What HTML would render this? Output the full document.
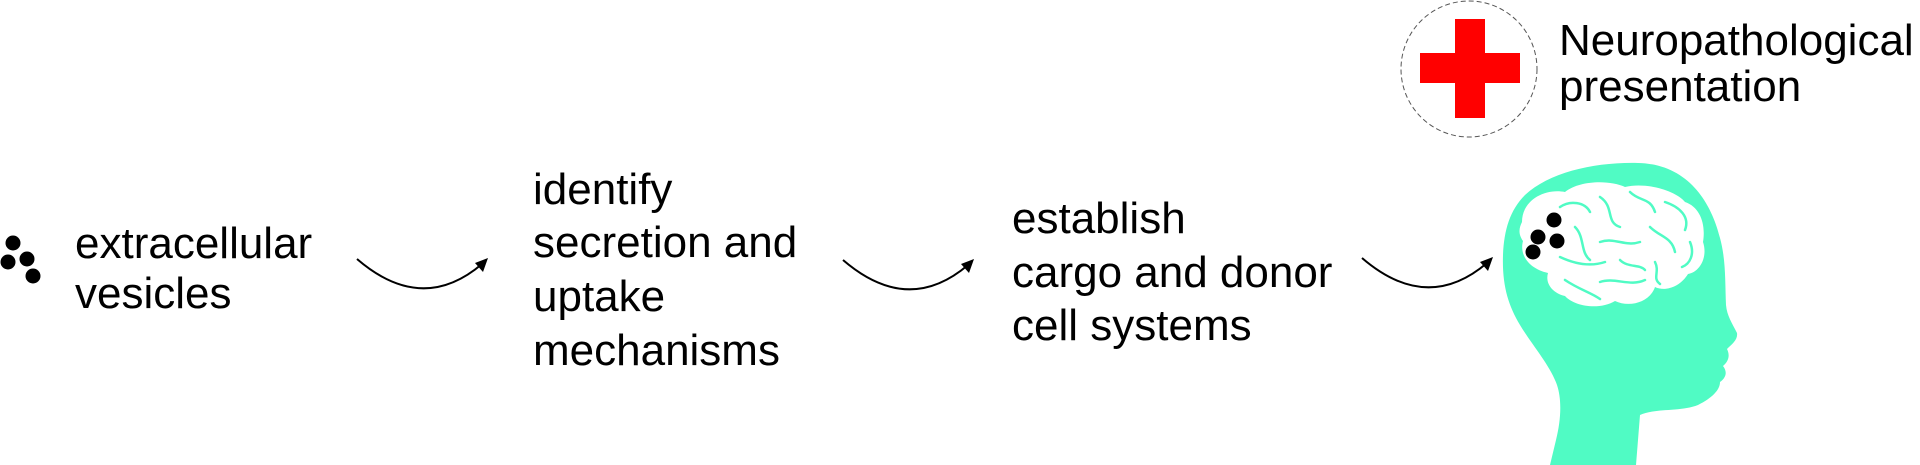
<!DOCTYPE html>
<html><head><meta charset="utf-8"><style>
html,body{margin:0;padding:0;background:#fff;}
svg{display:block;}
text{font-family:"Liberation Sans",Arial,sans-serif;font-size:44px;fill:#000;}
</style></head><body>
<svg width="1920" height="465" viewBox="0 0 1920 465" xmlns="http://www.w3.org/2000/svg">
<circle cx="13" cy="243" r="7.5"/><circle cx="8" cy="262" r="7.5"/><circle cx="27" cy="259" r="7.5"/><circle cx="33" cy="276" r="7.5"/>
<text x="75" y="258">extracellular</text>
<text x="75" y="308">vesicles</text>
<text x="533" y="204">identify</text>
<text x="533" y="257">secretion and</text>
<text x="533" y="311">uptake</text>
<text x="533" y="365">mechanisms</text>
<text x="1012" y="233">establish</text>
<text x="1012" y="287">cargo and donor</text>
<text x="1012" y="340">cell systems</text>
<text x="1559" y="55">Neuropathological</text>
<text x="1559" y="101">presentation</text>
<g fill="none" stroke="#000" stroke-width="2">
<path d="M357 259 Q422 315 482 264"/>
<path d="M843 260 Q908 316 968 265"/>
<path d="M1362 258 Q1427 314 1487 263"/>
</g>
<g fill="#000">
<path d="M488 258 L475 263 L483 272 Z"/>
<path d="M974 259 L961 264 L969 273 Z"/>
<path d="M1493 257 L1480 262 L1488 271 Z"/>
</g>
<circle cx="1469" cy="69" r="68" fill="none" stroke="#555" stroke-width="1" stroke-dasharray="5,3"/>
<rect x="1420" y="53" width="100" height="30" fill="#f00"/>
<rect x="1455" y="19" width="30" height="99" fill="#f00"/>
<path fill="#50fbc4" d="M1638 163 C1595 162 1550 172 1525 195 C1510 210 1504 230 1503 255 C1502 285 1508 305 1520 325 C1532 345 1550 365 1557 385 C1562 400 1561 420 1556 440 L1550 465 L1636 465 L1640 415 C1655 408 1680 412 1698 405 C1712 398 1720 390 1720 382 C1727 377 1727 371 1723 366 C1729 361 1730 355 1727 349 C1732 344 1738 340 1737 333 C1732 323 1727 316 1726 305 C1725 282 1726 260 1720 238 C1710 198 1685 164 1638 163 Z"/>
<path fill="#fff" d="M1522 222 C1522 200 1545 188 1565 192 C1580 180 1610 180 1625 187 C1645 182 1675 190 1685 202 C1700 207 1706 224 1703 242 C1708 257 1700 272 1688 274 C1680 287 1665 292 1655 287 C1650 302 1630 308 1615 301 C1600 310 1575 307 1565 296 C1552 293 1545 283 1548 273 C1530 269 1519 256 1523 241 C1518 234 1519 228 1522 222 Z"/>
<g fill="none" stroke="#50fbc4" stroke-width="2.5" stroke-linecap="round">
<path d="M1560 207 C1570 200 1585 202 1590 212"/>
<path d="M1600 197 C1615 207 1605 222 1620 227"/>
<path d="M1630 192 C1640 202 1650 197 1655 212"/>
<path d="M1665 202 C1680 207 1690 217 1685 230"/>
<path d="M1575 227 C1585 237 1580 252 1590 260"/>
<path d="M1600 242 C1615 237 1625 247 1640 242"/>
<path d="M1650 227 C1660 237 1672 237 1675 252"/>
<path d="M1690 242 C1695 254 1690 264 1682 267"/>
<path d="M1560 257 C1575 264 1590 267 1605 262"/>
<path d="M1600 282 C1615 277 1630 287 1645 280"/>
<path d="M1655 262 C1660 272 1652 278 1660 284"/>
<path d="M1565 280 C1580 290 1590 292 1600 299"/>
<path d="M1620 260 C1628 268 1640 264 1645 270"/>
</g>
<circle cx="1554" cy="220" r="7.5"/><circle cx="1538" cy="237" r="7.5"/><circle cx="1557" cy="241" r="7.5"/><circle cx="1533" cy="252" r="7.5"/>
</svg>
</body></html>
